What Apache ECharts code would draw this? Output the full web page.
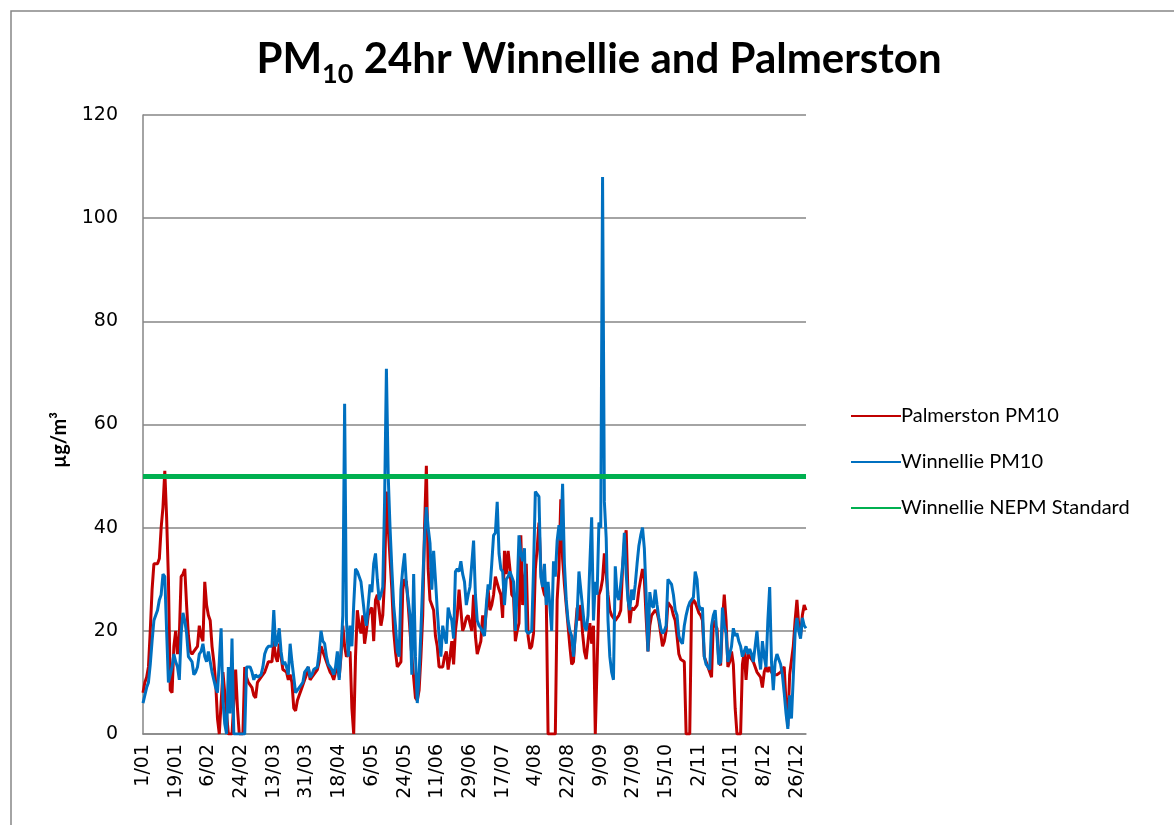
<!DOCTYPE html>
<html>
<head>
<meta charset="utf-8">
<script src="https://cdn.jsdelivr.net/npm/echarts@6/dist/echarts.min.js"></script>
<style>
html, body { margin: 0; padding: 0; background: #fff; }
#main { width: 1174px; height: 825px; }
</style>
</head>
<body>
<div id="main"></div>
<script>
// days per month (leap year)
var monthDays = [31, 29, 31, 30, 31, 30, 31, 31, 30, 31, 30, 31];

// Palmerston PM10, daily 24hr average, 1/01 .. 31/12
var palmerston = [
    8, 10, 11, 13, 20, 28, 33, 33, 33, 34,
    40, 44, 51, 42, 30, 8.5, 8, 17, 20, 15.5,
    19, 30.5, 31, 32, 25, 19, 16, 15.5, 16, 16.5,
    17, 21, 19, 18, 29.5, 25, 23, 22, 17, 14,
    10, 3, 0, 0, 12, 8, 4, 0, 0, 0,
    0, 12.5, 5, 0, 0, 0, 13, 11, 10, 10,
    9, 7.5, 7, 10, 10, 11, 11, 12, 13, 14,
    14, 14, 18, 15, 14, 17.5, 15, 12.5, 12.5, 12,
    10.5, 11.5, 10, 5, 4.5, 6.5, 7.5, 8.5, 9.5, 10.5,
    11.5, 13, 10.5, 11, 11.5, 12, 12.5, 14, 17, 16,
    15, 14, 13, 12, 11.5, 10.5, 12, 13.5, 11, 15,
    21, 17, 15, 15, 16, 5, 0, 15, 24, 21,
    19.5, 23, 17.5, 20, 23, 24, 24.5, 18, 26, 27,
    24, 21, 23, 30, 47, 40, 34, 28, 20, 16,
    13, 13, 14, 28, 30, 29.5, 25, 20, 15, 11,
    7, 6.5, 8.5, 15, 23, 40, 52, 32, 26, 25,
    24, 19, 17, 13, 13, 13, 15, 16, 12.5, 15,
    18, 13.5, 20, 23, 28, 24, 20, 21, 22.5, 23,
    23, 20, 27, 19, 15.5, 15.5, 18, 23, 19.5, 24,
    28, 24, 25, 27, 30.5, 30.5, 28, 27, 22.5, 35.5,
    31, 35.5, 32, 27, 26.5, 18, 20, 21.5, 38.5, 25,
    30, 33, 19, 16.5, 17, 19.5, 32, 36, 41, 32,
    28.5, 27, 26.5, 0, 0, 0, 0, 0, 26, 32,
    45.5, 34, 29, 25, 21, 17, 13.5, 14, 20, 24.5,
    22, 25, 19.5, 16, 14.5, 18, 21.5, 17.5, 21, 0,
    0, 27, 28, 30, 35, 31, 27, 24, 23, 22.5,
    22, 22.5, 23, 24, 32, 37, 39.5, 27, 21.5, 24.5,
    24, 24, 25, 28, 30, 32, 30, 22.5, 16, 21,
    23, 23, 24, 23.5, 22, 19.5, 17, 18, 20, 25.5,
    25, 24.5, 23, 22, 19, 15.5, 14.5, 14.5, 14, 0,
    0, 0, 25, 26, 25.5, 24.5, 23.5, 23, 22, 15,
    14, 13, 12, 11, 22, 21, 20.5, 14, 13.3, 22,
    27, 22, 13, 14, 16, 13.5, 5, 0, 0, 0,
    13.5, 16, 10.5, 15.5, 15, 14.5, 14, 14, 12, 11.5,
    11, 9, 12, 13, 12, 13, 12, 11.5, 11.5, 11.5,
    11.5, 12, 12.5, 13, 6, 1.5, 11.5, 11.5, 17, 22,
    26, 21, 19, 23, 25, 24
];

// Winnellie PM10
var winnellie = [
    6, 7.5, 9, 10, 13.5, 18, 22, 23, 24, 26,
    27, 31, 30.5, 20, 10, 11.5, 13, 15.5, 14, 13,
    10.5, 19.5, 23.5, 22, 19.5, 15, 14.5, 14, 11.5, 12,
    13, 15.5, 16, 17.5, 15, 14, 16, 14, 12, 10.5,
    9, 8, 14, 20.5, 6.5, 2, 0, 13, 4, 18.5,
    0, 0, 0, 0, 0, 0, 0, 13, 13, 13,
    12, 10.5, 11.5, 11, 11, 11.5, 13, 15.5, 16.5, 17,
    17, 17, 24, 17, 18, 20.5, 16, 13.5, 14, 13,
    11.5, 17.5, 14, 11, 8, 8.5, 9, 9.5, 10, 12,
    12.5, 13, 11, 11.5, 12.5, 12.5, 13, 16, 20, 18,
    17.5, 15, 13.5, 13, 12.5, 11.5, 13, 16, 10.5, 16,
    23, 64, 22, 15, 21, 17, 25, 32, 31.5, 31.5,
    29.5, 29.5, 23, 21, 25, 29, 27.5, 33, 35, 30,
    26, 27, 28.5, 45, 70.8, 50, 40, 32, 25, 21,
    16, 15, 28, 32, 35, 29, 26, 23, 11.5, 31,
    15, 6, 11.5, 20, 29.5, 38, 44, 40, 37, 28,
    35.5, 30, 24, 19, 15, 21, 19, 17.5, 24.5, 23,
    22, 18.5, 31.5, 32, 31.5, 33.5, 31, 29.5, 25, 27,
    28.5, 33, 37.5, 27, 22, 21, 20.5, 20.5, 19, 25,
    29, 28, 33, 38.5, 39, 45, 35, 32, 31.5, 25,
    30, 30.5, 31.5, 31.5, 29.5, 20, 28, 38.5, 35, 33.5,
    36, 20, 19.5, 19.5, 20, 32, 47, 46.5, 46, 30.5,
    28.5, 33, 25, 29.5, 29.5, 20, 33.5, 30.5, 37.5, 40.5,
    37.5, 48.5, 33, 26, 22, 20, 19, 15, 19, 23,
    31.5, 28, 24.5, 21, 20, 23, 33, 42, 22, 29.5,
    27, 41, 40, 108, 45, 38, 22, 15, 12, 10.5,
    32.5, 27, 26, 29, 32.5, 39, 31, 26, 24, 28,
    26, 29, 33, 36.5, 38.5, 40, 36, 27, 16, 27.5,
    25, 24.5, 28, 25, 22.5, 20.5, 19.5, 20, 21, 30,
    29.5, 29, 27, 24, 23, 19, 18, 17.5, 21, 23,
    24.5, 25.5, 26, 26.5, 31.5, 30, 25, 24, 24.5, 15,
    13.5, 13, 12.5, 21, 23, 24, 19, 13.5, 14, 24.5,
    21, 19.5, 14, 15.5, 17, 20.5, 19, 19.5, 18, 17,
    15, 16, 17, 15.5, 16.5, 15.5, 14, 17, 20, 15.5,
    12.5, 18, 15, 13, 22, 28.5, 14, 8.5, 14, 15.5,
    14.5, 13.5, 11.5, 8, 4, 1, 7.5, 3, 11, 19.5,
    22.5, 20, 18.5, 22.5, 21, 20.5
];

var nepmStandard = 50; // µg/m³, 24hr
var yTicks = [0, 20, 40, 60, 80, 100, 120];
var seriesNames = ['Palmerston PM10', 'Winnellie PM10', 'Winnellie NEPM Standard'];
var seriesColors = ['#c00000', '#0070c0', '#00b050'];

// category labels d/mm
var days = [];
for (var m = 0; m < monthDays.length; m++) {
    for (var d = 1; d <= monthDays[m]; d++) {
        days.push(d + '/' + (m < 9 ? '0' : '') + (m + 1));
    }
}

var myChart = echarts.init(document.getElementById('main'), null, { renderer: 'canvas' });

var axisGray = '#868686';
var option = {
    backgroundColor: '#fff',
    animation: false,
    graphic: [
        {
            type: 'rect',
            shape: { x: 11, y: 11, width: 1400, height: 1000 },
            style: { fill: 'none', stroke: axisGray, lineWidth: 1.5 },
            silent: true
        },
        {
            type: 'text',
            x: 599, y: 38,
            style: {
                text: '{a|PM}{s|10}{a| 24hr Winnellie and Palmerston}',
                align: 'center',
                verticalAlign: 'top',
                rich: {
                    a: { fontFamily: 'Lato', fontWeight: 'bold', fontSize: 42, lineHeight: 42, verticalAlign: 'top', fill: '#000' },
                    s: { fontFamily: 'Lato', fontWeight: 'bold', fontSize: 27, lineHeight: 72, verticalAlign: 'middle', fill: '#000' }
                }
            }
        },
        {
            type: 'text',
            x: 60, y: 440,
            rotation: Math.PI / 2,
            style: {
                text: 'µg/m³',
                align: 'center',
                verticalAlign: 'middle',
                font: 'bold 20px Lato',
                fill: '#000'
            }
        }
    ],
    legend: {
        orient: 'vertical',
        left: 845,
        top: 401,
        itemWidth: 50,
        itemHeight: 20,
        itemGap: 26,
        data: seriesNames,
        itemStyle: { opacity: 0 },
        textStyle: { fontFamily: 'Lato', fontSize: 20, color: '#000', padding: [0, 0, 0, -5] }
    },
    grid: {
        left: 143,
        top: 115,
        width: 663,
        height: 619,
        containLabel: false
    },
    xAxis: {
        type: 'category',
        boundaryGap: false,
        data: days,
        axisLine: { show: true, lineStyle: { color: axisGray, width: 1.5 } },
        axisTick: { show: false },
        axisLabel: {
            interval: 17,
            rotate: 90,
            margin: 10,
            fontFamily: 'DejaVu Sans',
            fontSize: 19,
            color: '#000'
        },
        splitLine: { show: false }
    },
    yAxis: {
        type: 'value',
        min: yTicks[0],
        max: yTicks[yTicks.length - 1],
        interval: yTicks[1] - yTicks[0],
        axisLine: { show: true, lineStyle: { color: axisGray, width: 1.5 } },
        axisTick: { show: false },
        axisLabel: {
            margin: 25,
            fontFamily: 'DejaVu Sans',
            fontSize: 19,
            color: '#000'
        },
        splitLine: { show: true, lineStyle: { color: axisGray, width: 1.5 } }
    },
    series: [
        {
            name: seriesNames[0],
            type: 'line',
            symbol: 'none',
            data: palmerston,
            itemStyle: { color: seriesColors[0] },
            lineStyle: { color: seriesColors[0], width: 3 }
        },
        {
            name: seriesNames[1],
            type: 'line',
            symbol: 'none',
            data: winnellie,
            itemStyle: { color: seriesColors[1] },
            lineStyle: { color: seriesColors[1], width: 3 }
        },
        {
            name: seriesNames[2],
            type: 'line',
            symbol: 'none',
            data: [],
            itemStyle: { color: seriesColors[2] },
            lineStyle: { color: seriesColors[2], width: 5 },
            markLine: {
                silent: true,
                symbol: 'none',
                label: { show: false },
                lineStyle: { color: seriesColors[2], width: 5, type: 'solid' },
                data: [{ yAxis: nepmStandard }]
            }
        }
    ]
};

myChart.setOption(option);
</script>
</body>
</html>
